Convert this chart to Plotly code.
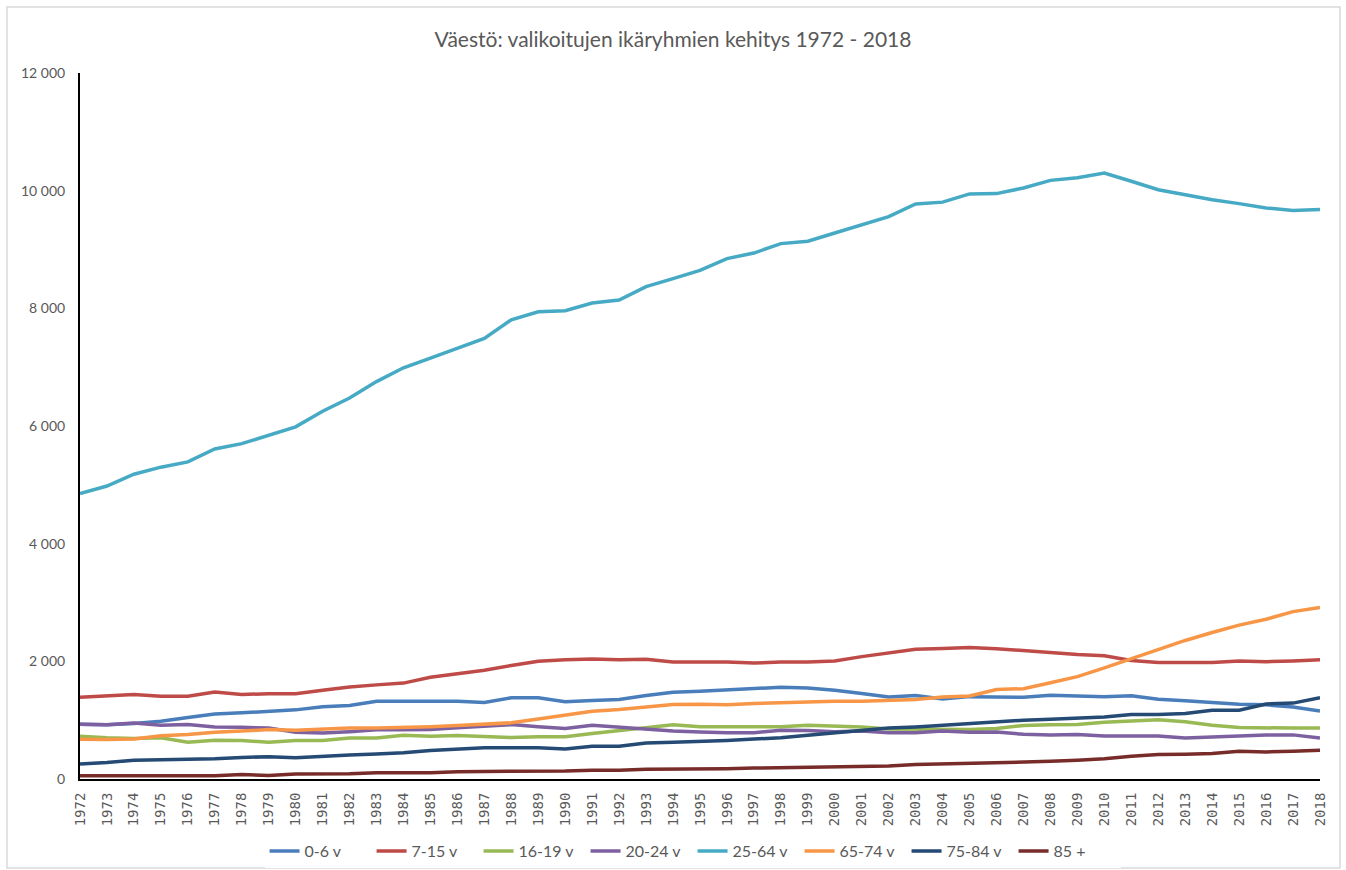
import plotly.graph_objects as go

years = [str(y) for y in range(1972, 2019)]

age_0_6 = [930, 920, 945, 980, 1045, 1105, 1125, 1150, 1175, 1230,
           1250, 1320, 1320, 1320, 1320, 1300, 1380, 1380, 1315, 1335,
           1350, 1420, 1475, 1490, 1515, 1545, 1560, 1545, 1510, 1455,
           1395, 1420, 1360, 1400, 1390, 1390, 1425, 1410, 1400, 1415,
           1355, 1330, 1295, 1270, 1260, 1225, 1155]
age_7_15 = [1390, 1410, 1435, 1405, 1405, 1480, 1435, 1450, 1450, 1510,
            1565, 1600, 1630, 1730, 1785, 1850, 1930, 2000, 2025, 2040,
            2025, 2035, 1990, 1990, 1990, 1970, 1990, 1990, 2005, 2080,
            2145, 2205, 2220, 2235, 2215, 2180, 2150, 2115, 2095, 2015,
            1980, 1980, 1980, 2005, 1995, 2005, 2025]
age_16_19 = [725, 700, 690, 700, 625, 660, 655, 625, 655, 655,
             695, 695, 745, 725, 740, 720, 705, 720, 720, 775,
             825, 860, 920, 890, 885, 885, 890, 915, 905, 885,
             850, 850, 850, 840, 860, 910, 920, 925, 965, 985,
             1005, 975, 915, 875, 865, 865, 865]
age_20_24 = [930, 920, 950, 915, 925, 885, 880, 865, 795, 780,
             805, 835, 835, 840, 870, 900, 925, 890, 860, 915,
             885, 850, 815, 800, 785, 785, 830, 825, 805, 815,
             785, 785, 815, 795, 800, 760, 750, 755, 730, 730,
             730, 695, 710, 730, 750, 750, 695]
age_25_64 = [4850, 4980, 5180, 5300, 5390, 5610, 5700, 5845, 5985, 6250,
             6475, 6755, 6990, 7155, 7325, 7490, 7805, 7940, 7960, 8090,
             8140, 8370, 8505, 8645, 8845, 8940, 9100, 9140, 9280, 9420,
             9560, 9775, 9805, 9945, 9950, 10045, 10175, 10220, 10300, 10160,
             10015, 9930, 9845, 9780, 9705, 9665, 9680]
age_65_74 = [675, 670, 680, 735, 755, 795, 815, 840, 830, 845,
             865, 865, 875, 890, 910, 940, 955, 1020, 1090, 1150,
             1180, 1225, 1265, 1270, 1260, 1285, 1300, 1305, 1320, 1320,
             1335, 1350, 1395, 1410, 1520, 1535, 1635, 1740, 1890, 2045,
             2195, 2355, 2490, 2615, 2715, 2845, 2915]
age_75_84 = [255, 280, 320, 330, 330, 345, 365, 380, 360, 390,
             410, 425, 445, 485, 500, 530, 530, 530, 510, 555,
             555, 610, 625, 635, 655, 680, 700, 745, 785, 830,
             865, 885, 915, 945, 970, 1000, 1015, 1030, 1055, 1095,
             1095, 1115, 1170, 1170, 1275, 1290, 1380]
age_85 = [55, 55, 55, 55, 55, 55, 75, 60, 85, 85,
          90, 105, 105, 105, 125, 125, 135, 135, 135, 150,
          150, 165, 165, 175, 175, 185, 190, 190, 200, 215,
          220, 245, 255, 260, 270, 280, 300, 320, 345, 385,
          415, 420, 435, 470, 460, 470, 490]

series = [
    ("0-6 v", age_0_6, "#4a7ebb"),
    ("7-15 v", age_7_15, "#be4b48"),
    ("16-19 v", age_16_19, "#98b954"),
    ("20-24 v", age_20_24, "#7d60a0"),
    ("25-64 v", age_25_64, "#46aac5"),
    ("65-74 v", age_65_74, "#f79646"),
    ("75-84 v", age_75_84, "#254a74"),
    ("85 +", age_85, "#772c2a"),
]

grey = "#595959"
fig = go.Figure()
for name, values, color in series:
    fig.add_trace(go.Scatter(x=years, y=values, name=name, mode="lines",
                             line=dict(color=color, width=3.5)))

fig.update_layout(
    width=1346, height=870,
    margin=dict(l=80, r=26, t=73, b=91, autoexpand=False),
    paper_bgcolor="white", plot_bgcolor="white",
    separators=", ",
    font=dict(family="Lato, sans-serif", color=grey),
    title=dict(text="Väestö: valikoitujen ikäryhmien kehitys 1972 - 2018",
               x=0.5, xanchor="center", y=0.954, yanchor="middle",
               font=dict(size=21, color=grey)),
    legend=dict(orientation="h", x=0.494, xanchor="center",
                y=-0.102, yanchor="middle", font=dict(size=16, color=grey),
                itemwidth=30, entrywidth=62),
    showlegend=True,
    shapes=[dict(type="rect", xref="paper", yref="paper",
                 x0=-0.0589, x1=1.0161, y0=-0.126, y1=1.0935,
                 line=dict(color="#d9d9d9", width=1.5), layer="below")],
)
fig.update_xaxes(type="category", tickangle=-90, dtick=1, showline=True,
                 linecolor="black", linewidth=2, showgrid=False, ticks="",
                 ticklabelstandoff=6,
                 tickfont=dict(family="DejaVu Sans Mono", size=14, color=grey))
fig.update_yaxes(range=[0, 12000], dtick=2000, tickformat=",", showline=True,
                 linecolor="black", linewidth=2, showgrid=False, zeroline=False,
                 ticks="", ticklabelstandoff=10,
                 tickfont=dict(size=14, color=grey))

fig.write_html("out.html", config={"displayModeBar": False},
               post_script="document.body.style.margin='0';")
